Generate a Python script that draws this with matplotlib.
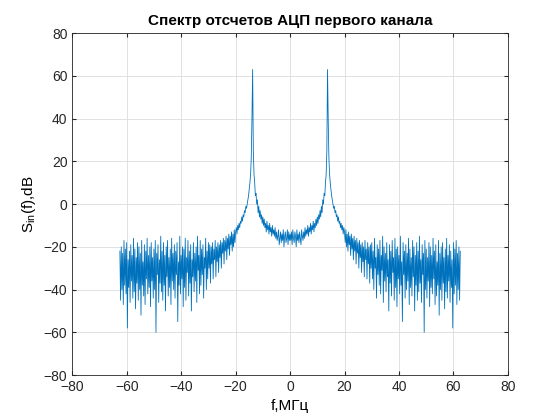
import numpy as np
import matplotlib
matplotlib.use("Agg")
import matplotlib.pyplot as plt
plt.rcParams['font.family'] = ['Liberation Sans', 'DejaVu Sans']
plt.rcParams['mathtext.fontset'] = 'custom'
plt.rcParams['mathtext.rm'] = 'Liberation Sans'

step = 0.25
spec_pos = [
-14,-17,-13,-19,-12,-16,-18,-13,-15,-20,-12,-17,-14,-18,-13,-16,-19,-12,-15,-17,
-13,-16,-11,-15,-12,-14,-10,-15,-11,-13,-9,-14,-10,-12,-8,-13,-9,-11,-7,-10,
-6,-9,-5,-7,-3,-6,-1,-4,2,0,5,4,10,14,25,63,
40,22,14,10,7,4,2,0,-2,-1,-4,-3,-6,-5,-8,-6,-9,-8,-11,-9,-12,-10,-14,-11,
-13,-18,-12,-20,-14,-22,-13,-19,-15,-24,-14,-21,-16,-26,-15,-22,-17,-28,-16,-23,
-18,-30,-17,-25,-19,-32,-18,-27,-20,-34,-17,-26,-21,-35,-18,-28,-20,-37,-19,-30,
-18,-35,-22,-40,-16,-30,-25,-44,-19,-33,
-21,-38,-17,-42,-24,-31,-15,-46,-20,-36,
-23,-41,-18,-34,-26,-50,-19,-37,-22,-43,
-17,-32,-25,-45,-16,-39,-21,-48,-20,-35,
-24,-42,-15,-38,-27,-55,-18,-33,-22,-44,
-19,-40,-23,-36,-16,-47,-21,-39,-25,-43,
-17,-34,-20,-50,-24,-38,-18,-45,-22,-41,
-15,-37,-26,-46,-19,-33,-23,-60,-17,-40,
-21,-44,-25,-36,-18,-48,-20,-39,-24,-42,
-16,-35,-22,-47,-19,-43,-27,-38,-17,-52,
-23,-40,-20,-45,-18,-37,-25,-49,-21,-41,
-16,-44,-24,-36,-19,-46,-22,-39,-26,-58,
-18,-42,-21,-38,-17,-47,-23,-40,-20,-45,
-22]

f_pos = np.arange(len(spec_pos)) * step
f = np.concatenate([-f_pos[:0:-1], f_pos])
s = np.concatenate([np.array(spec_pos)[:0:-1], spec_pos])

fig = plt.figure(figsize=(5.6, 4.2), dpi=100)
ax = fig.add_axes([0.129, 0.107, 0.778, 0.814])
ax.plot(f, s, color='#0072BD', lw=0.6)
ax.set_xlim(-80, 80)
ax.set_ylim(-80, 80)
ax.set_xticks(np.arange(-80, 81, 20))
ax.set_yticks(np.arange(-80, 81, 20))
ax.grid(True, color='#dcdcdc', lw=0.6)
ax.set_axisbelow(True)
ax.tick_params(direction='in', labelsize=10, top=True, right=True, length=3, colors='#262626')
for sp in ax.spines.values():
    sp.set_linewidth(0.6)
    sp.set_color('#262626')
ax.set_title('Спектр отсчетов АЦП первого канала', fontsize=11, fontweight='bold')
ax.set_xlabel('f,МГц', fontsize=11)
ax.set_ylabel(r'S$_{\rm in}$(f),dB', fontsize=11)
fig.savefig('out.png', dpi=100)
